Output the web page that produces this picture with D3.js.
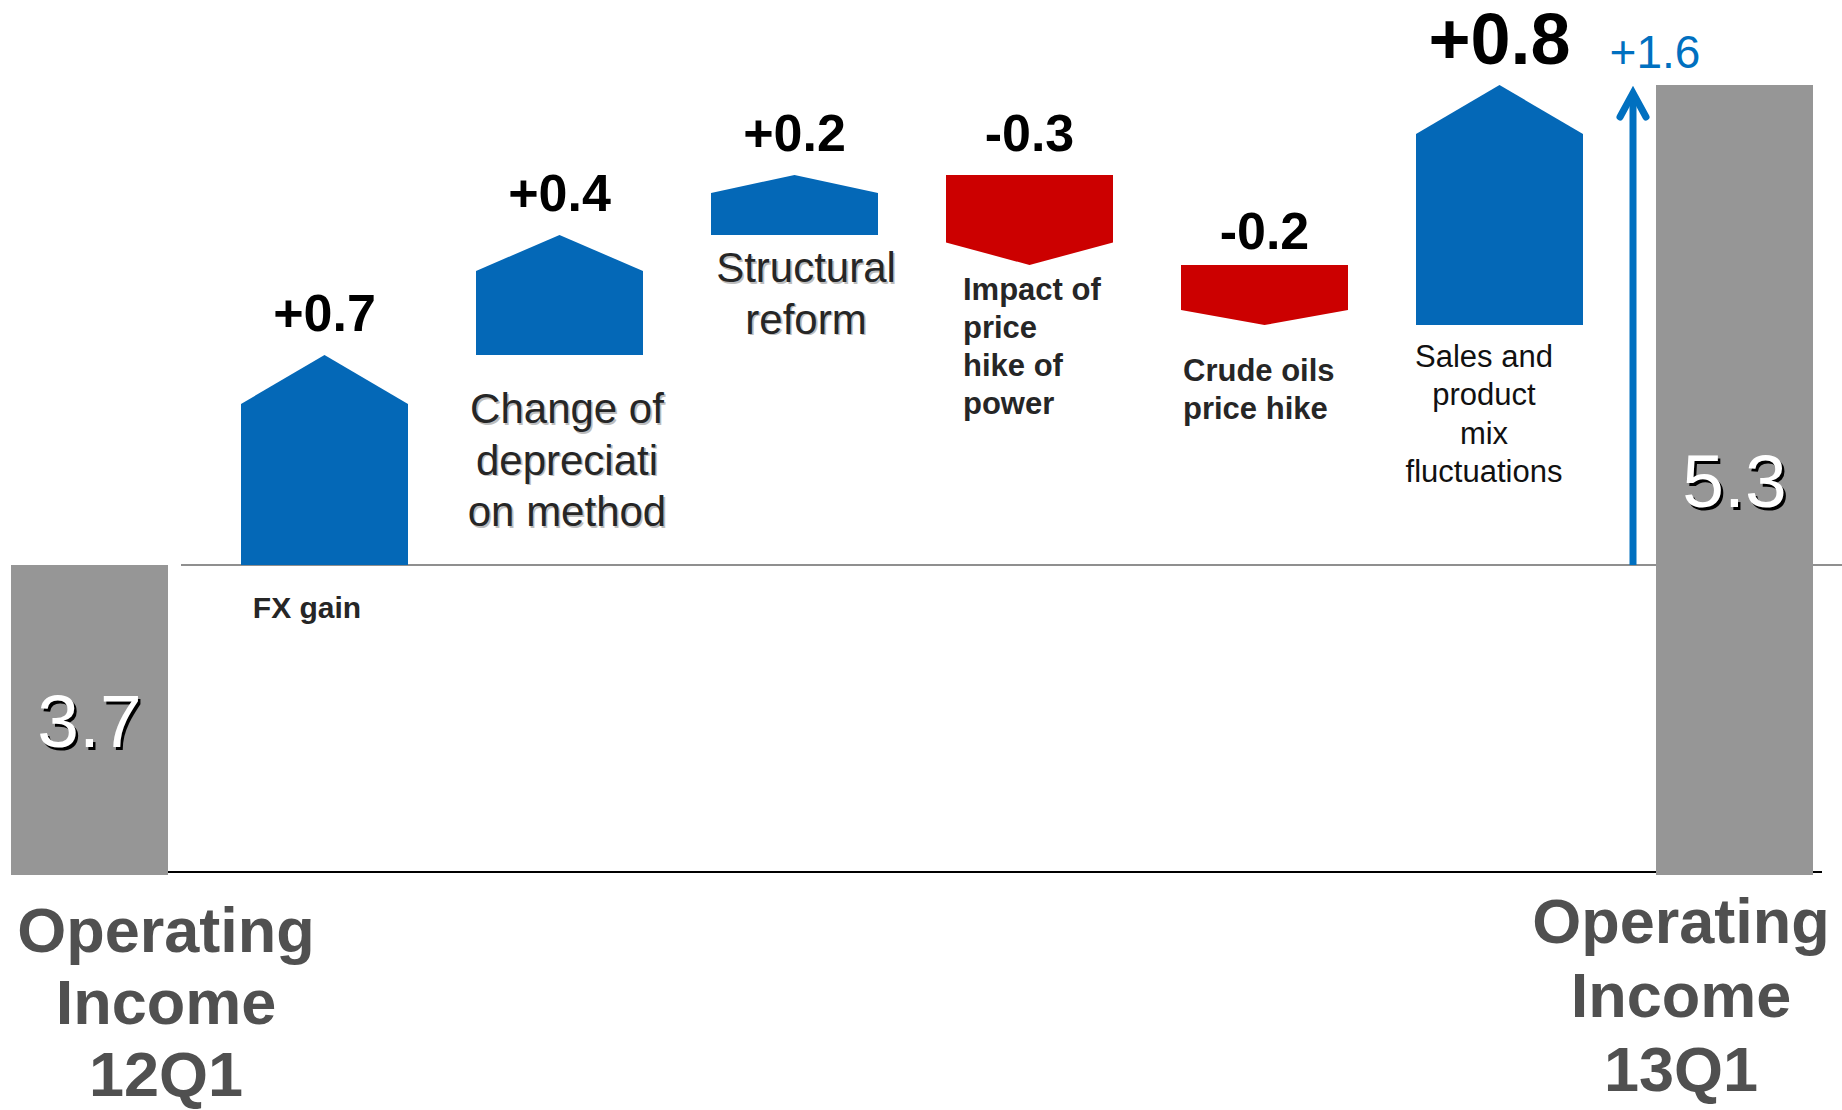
<!DOCTYPE html>
<html>
<head>
<meta charset="utf-8">
<script src="https://cdn.jsdelivr.net/npm/d3@7"></script>
<style>
  html, body { margin: 0; padding: 0; background: #ffffff; }
  svg { display: block; }
</style>
</head>
<body>
<svg id="chart" width="1842" height="1110"></svg>
<script>
// Operating income bridge from 12Q1 to 13Q1 (waterfall of contributing factors)
const categories = [
  "Operating Income 12Q1",
  "FX gain",
  "Change of depreciation method",
  "Structural reform",
  "Impact of price hike of power",
  "Crude oils price hike",
  "Sales and product mix fluctuations",
  "Operating Income 13Q1"
];
const categoryLines = [
  ["Operating", "Income", "12Q1"],
  ["FX gain"],
  ["Change of", "depreciati", "on method"],
  ["Structural", "reform"],
  ["Impact of", "price", "hike of", "power"],
  ["Crude oils", "price hike"],
  ["Sales and", "product", "mix", "fluctuations"],
  ["Operating", "Income", "13Q1"]
];
const startValue = 3.7;
const endValue = 5.3;
const deltas = [0.7, 0.4, 0.2, -0.3, -0.2, 0.8];
const totalChange = 1.6;

const FONT = "'Liberation Sans', Arial, Helvetica, sans-serif";
const BLUE = "#0468b7";
const RED = "#cc0000";
const GREY = "#969696";
const ARROW_BLUE = "#0070c0";

const svg = d3.select("#chart");

const x = d3.scalePoint().domain(categories).range([89.5, 1734.5]);
const y = d3.scaleLinear().domain([startValue, endValue]).range([565, 85]);
const yFloor = 875;          // bottom of the (broken) total bars
const stepW = 167;
const totalW = 157;

const fmtDelta = d => (d > 0 ? "+" : "-") + Math.abs(d).toFixed(1);

// cumulative steps
let running = startValue;
const steps = deltas.map((d, i) => {
  const s = { key: categories[i + 1], idx: i + 1, delta: d, from: running, to: +(running + d).toFixed(2) };
  running = s.to;
  return s;
});

// reference lines
svg.append("line")
  .attr("x1", 181).attr("x2", 1842)
  .attr("y1", y(startValue)).attr("y2", y(startValue))
  .attr("stroke", "#8f8f8f").attr("stroke-width", 2);

svg.append("line")
  .attr("x1", 13).attr("x2", 1822)
  .attr("y1", yFloor - 3).attr("y2", yFloor - 3)
  .attr("stroke", "#000").attr("stroke-width", 2);

// total bars
const totals = [
  { key: categories[0], value: startValue },
  { key: categories[categories.length - 1], value: endValue }
];

svg.selectAll("rect.total").data(totals).join("rect")
  .attr("class", "total")
  .attr("x", d => x(d.key) - totalW / 2)
  .attr("y", d => y(d.value))
  .attr("width", totalW)
  .attr("height", d => yFloor - y(d.value))
  .attr("fill", GREY);

// step arrows
function stepPath(s) {
  const cx = x(s.key), l = cx - stepW / 2, r = cx + stepW / 2;
  const y0 = y(s.from), y1 = y(s.to);
  const h = Math.abs(y0 - y1);
  if (s.delta >= 0) {
    const head = Math.min(h * 0.3, 49);
    return `M${l},${y0}L${l},${y1 + head}L${cx},${y1}L${r},${y1 + head}L${r},${y0}Z`;
  }
  const head = Math.min(h * 0.25, 49);
  return `M${l},${y0}L${r},${y0}L${r},${y1 - head}L${cx},${y1}L${l},${y1 - head}Z`;
}

svg.selectAll("path.step").data(steps).join("path")
  .attr("class", "step")
  .attr("d", stepPath)
  .attr("fill", d => d.delta >= 0 ? BLUE : RED);

// step value labels
const maxDelta = d3.max(deltas);
svg.selectAll("text.delta").data(steps).join("text")
  .attr("class", "delta")
  .attr("x", d => x(d.key))
  .attr("y", d => y(Math.max(d.from, d.to)) - (d.delta === maxDelta ? 21 : (d.to < d.from && d.to < 4.6 ? 16 : 24)))
  .attr("text-anchor", "middle")
  .attr("font-family", FONT)
  .attr("font-weight", "bold")
  .attr("font-size", d => d.delta === maxDelta ? 72 : 52)
  .attr("fill", "#000")
  .text(d => fmtDelta(d.delta));

// total value labels (white with dark drop shadow)
const totalLabel = svg.append("g");
totals.forEach(t => {
  const cx = x(t.key), cy = (y(t.value) + yFloor) / 2;
  [["#000", 2.5], ["#fff", 0]].forEach(([c, o]) => {
    totalLabel.append("text")
      .attr("x", cx + o).attr("y", cy + o)
      .attr("dy", "0.36em")
      .attr("text-anchor", "middle")
      .attr("font-family", FONT)
      .attr("font-size", 75)
      .attr("fill", c)
      .text(t.value.toFixed(1));
  });
});

// category label layout
const labelLayout = {
  1: { weight: "bold",   size: 30, lh: 38,   fill: "#262626", anchor: "middle", dx: -17.5, gap: 53 },
  2: { weight: "normal", size: 42, lh: 51.6, fill: "#262626", anchor: "middle", dx: 7.5,   gap: 68, shadow: true },
  3: { weight: "normal", size: 42, lh: 51.6, fill: "#262626", anchor: "middle", dx: 11.5,  gap: 47, shadow: true },
  4: { weight: "bold",   size: 31, lh: 38,   fill: "#262626", anchor: "start",  dx: -66.5, gap: 35 },
  5: { weight: "bold",   size: 31, lh: 37.5, fill: "#262626", anchor: "start",  dx: -81.5, gap: 56 },
  6: { weight: "normal", size: 31, lh: 38.3, fill: "#111111", anchor: "middle", dx: -15.5, gap: 42 }
};

function drawLines(g, lines, xPos, y0, st) {
  const layers = st.shadow ? [["#bdbdbd", 1.6], [st.fill, 0]] : [[st.fill, 0]];
  layers.forEach(([c, o]) => {
    const t = g.append("text")
      .attr("x", xPos + o).attr("y", y0 + o)
      .attr("text-anchor", st.anchor)
      .attr("font-family", FONT)
      .attr("font-weight", st.weight)
      .attr("font-size", st.size)
      .attr("fill", c);
    lines.forEach((ln, i) => {
      t.append("tspan").attr("x", xPos + o).attr("y", y0 + o + i * st.lh).text(ln);
    });
  });
}

const labels = svg.append("g");
steps.forEach(s => {
  const st = labelLayout[s.idx];
  const yLow = y(Math.min(s.from, s.to));
  drawLines(labels, categoryLines[s.idx], x(s.key) + st.dx, yLow + st.gap, st);
});

// total category labels
const leftTotalStyle = { weight: "bold", size: 63, lh: 72, fill: "#505050", anchor: "middle" };
const rightTotalStyle = { weight: "bold", size: 63, lh: 74, fill: "#505050", anchor: "middle" };
drawLines(labels, categoryLines[0], 166, yFloor + 77, leftTotalStyle);
drawLines(labels, categoryLines[categories.length - 1], x(categories[categories.length - 1]) - 53.5, yFloor + 68, rightTotalStyle);

// overall change arrow
const ax = x(categories[categories.length - 1]) - totalW / 2 - 23;
const tipY = y(startValue + totalChange);
const arrow = svg.append("g")
  .attr("stroke", ARROW_BLUE)
  .attr("stroke-width", 7)
  .attr("fill", "none");
arrow.append("line")
  .attr("x1", ax).attr("x2", ax)
  .attr("y1", y(startValue)).attr("y2", tipY + 10);
arrow.append("polyline")
  .attr("points", [[ax - 13, tipY + 32], [ax, tipY + 8], [ax + 13, tipY + 32]].map(p => p.join(",")).join(" "))
  .attr("stroke-linecap", "round")
  .attr("stroke-linejoin", "miter");

svg.append("text")
  .attr("x", ax + 22)
  .attr("y", tipY - 17)
  .attr("text-anchor", "middle")
  .attr("font-family", FONT)
  .attr("font-size", 46)
  .attr("fill", ARROW_BLUE)
  .text(fmtDelta(totalChange));
</script>
</body>
</html>
